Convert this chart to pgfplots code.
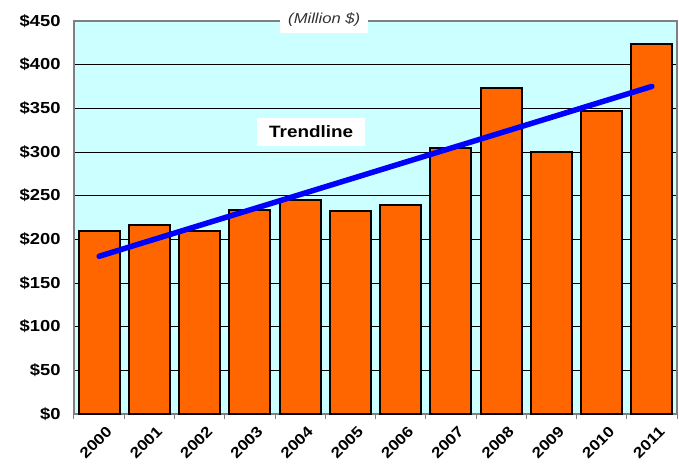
\documentclass[border=0pt]{standalone}
\usepackage{fontspec}
\setmainfont{Liberation Sans}[FakeStretch=1.15]
\usepackage{pgfplots}
\pgfplotsset{compat=1.18}
\definecolor{barorange}{HTML}{FF6600}
\definecolor{plotbg}{HTML}{CCFFFF}
\definecolor{framegray}{HTML}{808080}
\begin{document}
\begin{tikzpicture}
\begin{axis}[
    name=main,
    scale only axis,
    clip=false,
    width=603bp, height=393bp,
    xmin=-0.5, xmax=11.5,
    ymin=0, ymax=450,
    axis background/.style={fill=plotbg},
    axis line style={framegray, line width=1.2bp},
    xtick={0,...,11},
    xticklabels={2000,2001,2002,2003,2004,2005,2006,2007,2008,2009,2010,2011},
    minor xtick={-0.5,0.5,...,11.5},
    xtick align=outside,
    major tick length=0pt,
    minor tick length=5bp,
    minor tick style={framegray, line width=1bp},
    tick pos=left,
    ytick={0,50,...,450},
    yticklabels={\$0,\$50,\$100,\$150,\$200,\$250,\$300,\$350,\$400,\$450},
    ymajorgrids=true,
    grid style={black, line width=0.8bp},
    yticklabel style={font=\bfseries\fontsize{16}{16}\selectfont, xshift=-10bp},
    xticklabel style={font=\bfseries\fontsize{15}{15}\selectfont, rotate=45, anchor=north east, xshift=0bp, yshift=-9bp},
    ybar, bar width=0.82,
]
\addplot[fill=barorange, draw=black, line width=2bp]
    coordinates {
    (0,209)(1,216)(2,210)(3,234)(4,245)(5,232)(6,239)(7,305)(8,373)(9,300)(10,347)(11,424)
    };
\addplot[sharp plot, blue, line width=5.5bp, line cap=round]
    coordinates {(0,180.6)(11,375.1)};
\node[fill=white, inner xsep=8bp, inner ysep=6bp, font=\itshape\fontsize{14.5}{14.5}\selectfont, text=black!80]
    at (axis cs:4.48,451) {(Million \$)};
\node[fill=white, inner xsep=12bp, inner ysep=8bp, font=\bfseries\fontsize{16.5}{16.5}\selectfont]
    at (axis cs:4.22,323) {Trendline};
\end{axis}
\pgfresetboundingbox
\path (main.south west) +(-74bp,-54bp) (main.north east) +(2bp,21bp);
\end{tikzpicture}
\end{document}
